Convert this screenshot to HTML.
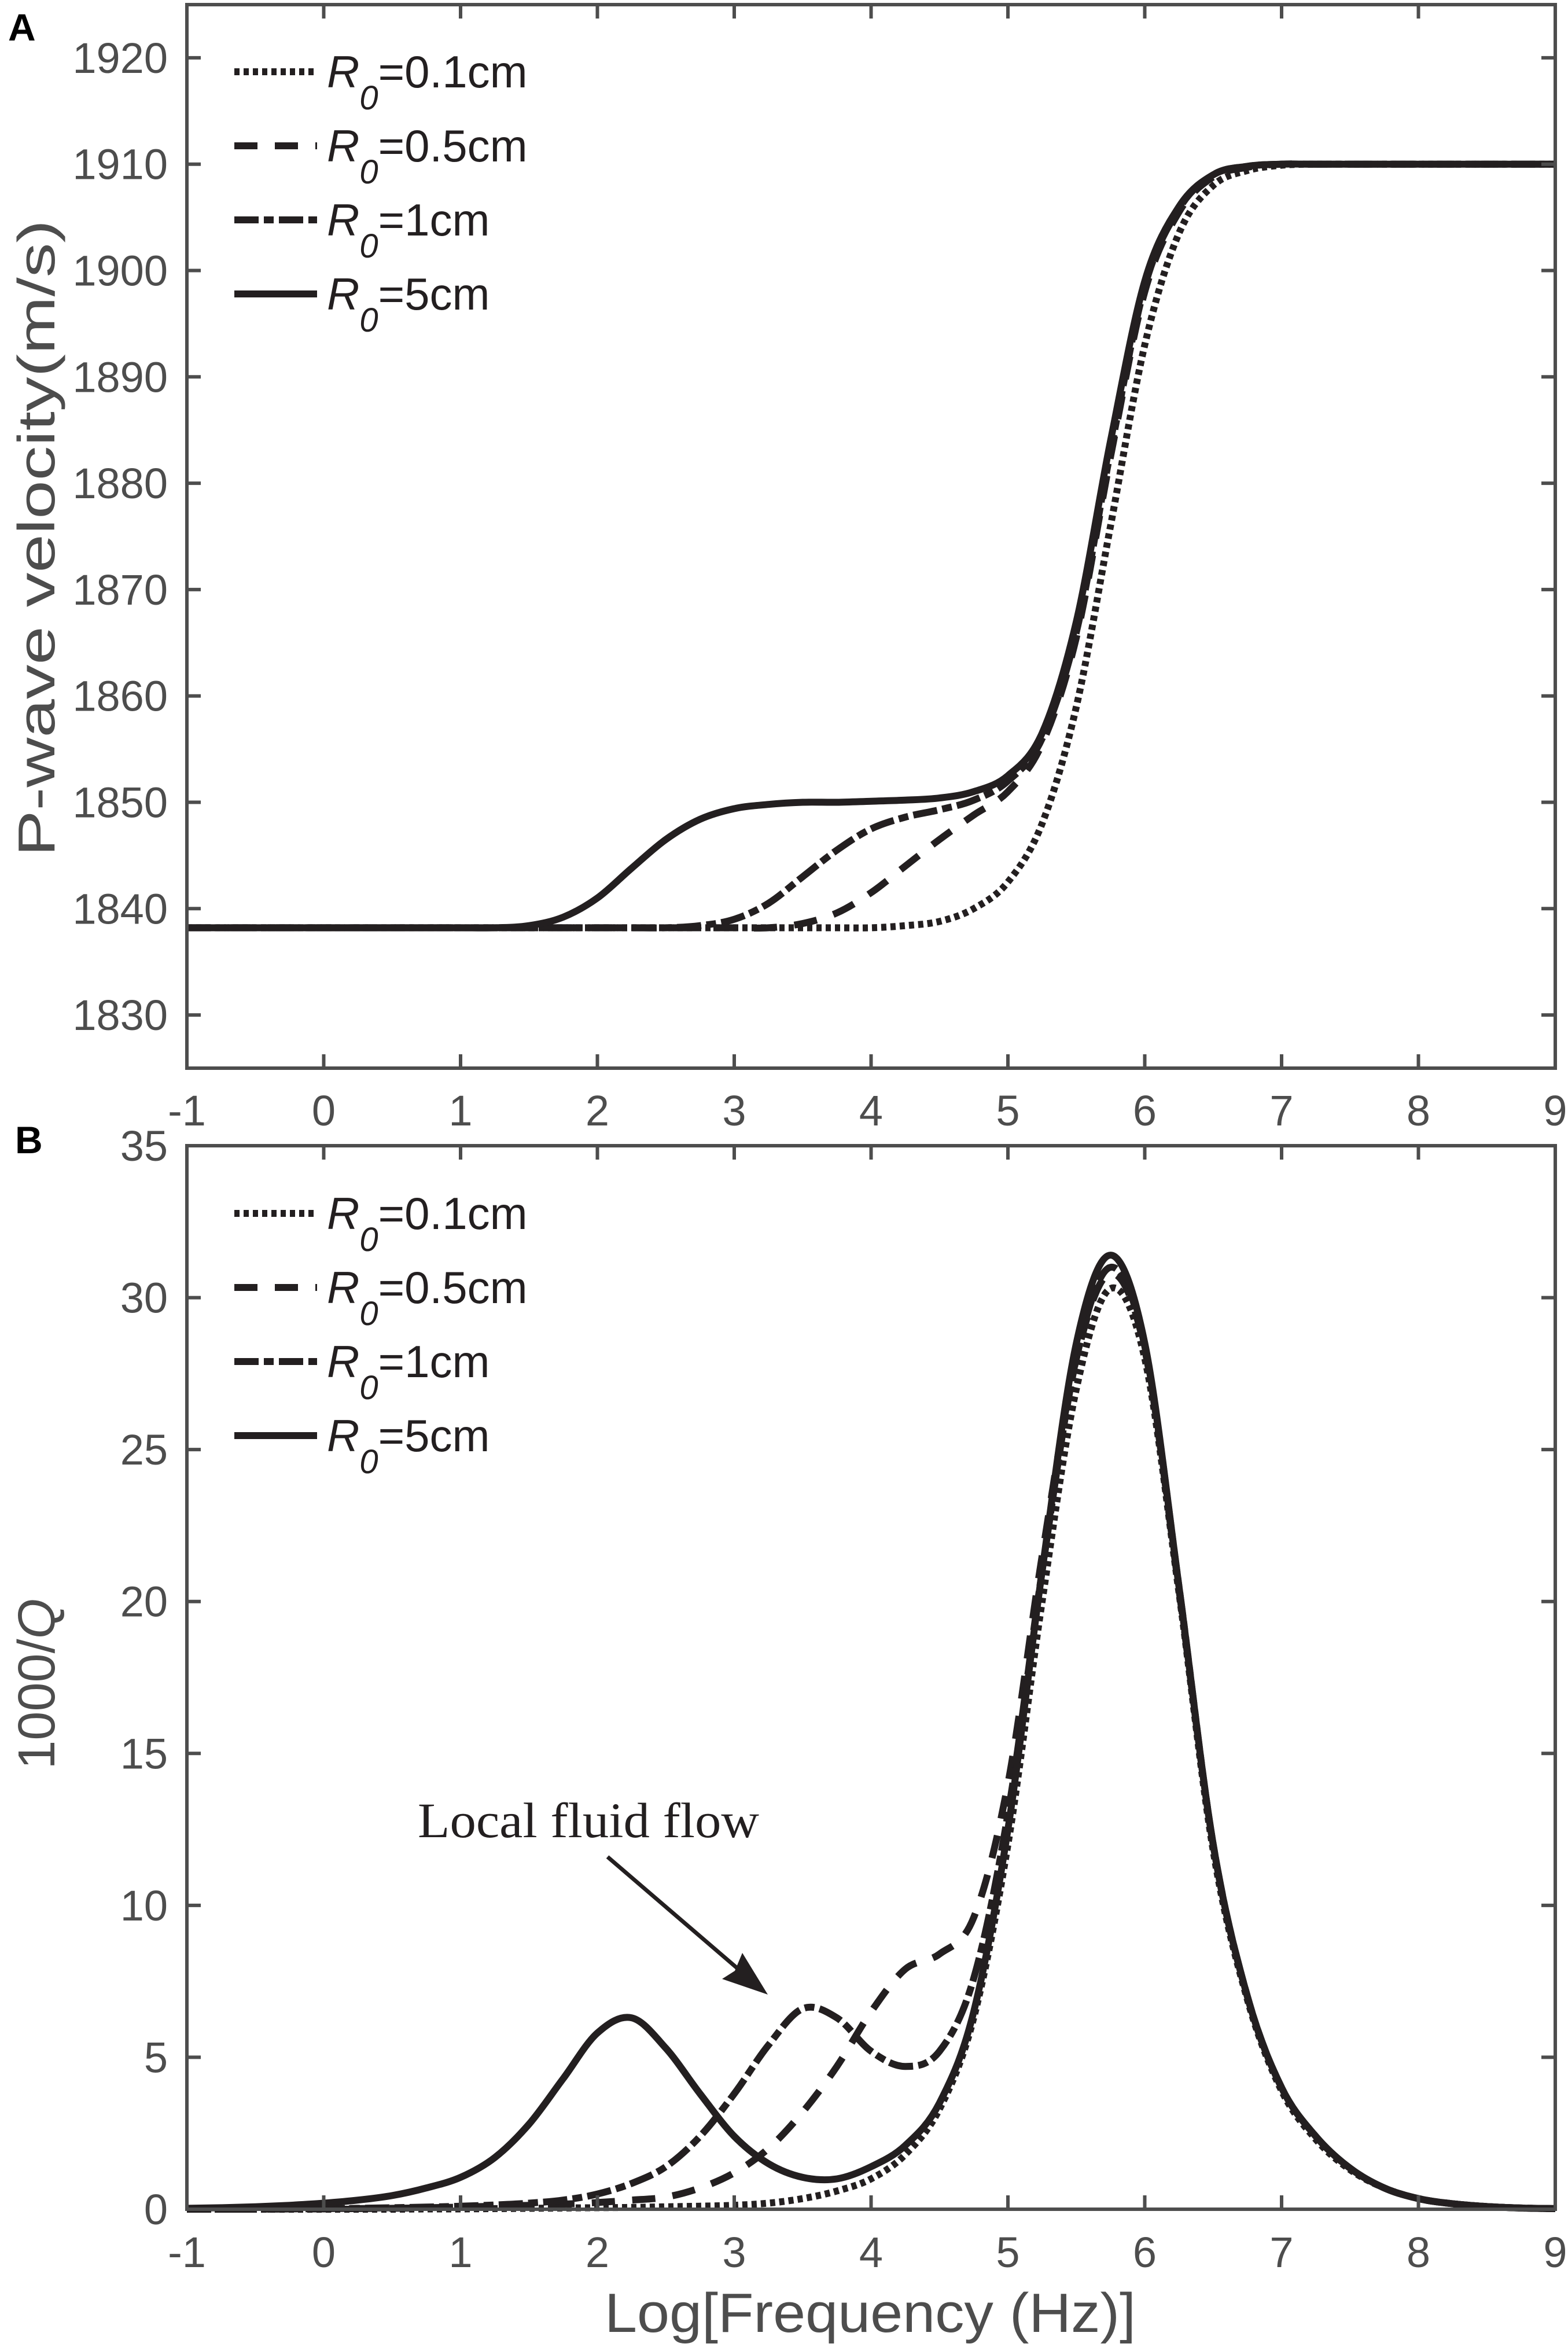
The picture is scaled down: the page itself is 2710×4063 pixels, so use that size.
<!DOCTYPE html>
<html><head><meta charset="utf-8"><style>
html,body{margin:0;padding:0;background:#fff;}
svg{display:block;}
</style></head><body>
<svg id="fig" width="2710" height="4063" viewBox="0 0 2710 4063" xmlns="http://www.w3.org/2000/svg" font-family="Liberation Sans, Arial, sans-serif">
<rect width="2710" height="4063" fill="#fff"/>
<g id="pa"></g>
<g id="pb"></g>
</svg>
<script>
// ---- data ----
const xGrid = [-1,-0.75,-0.5,-0.25,0,0.25,0.5,0.75,1,1.25,1.5,1.75,2,2.25,2.5,2.75,3,3.25,3.5,3.75,4,4.25,4.5,4.75,5,5.25,5.5,5.75,6,6.25,6.5,6.75,7,7.25,7.5,7.75,8,8.25,8.5,8.75,9];
const seriesNames = ["R0=0.1cm","R0=0.5cm","R0=1cm","R0=5cm"];
const xTicks = [-1,0,1,2,3,4,5,6,7,8,9];
const yTicksA = [1830,1840,1850,1860,1870,1880,1890,1900,1910,1920];
const yTicksB = [0,5,10,15,20,25,30,35];
// Panel A: P-wave velocity (m/s)
const velR01 = [1838.2,1838.2,1838.2,1838.2,1838.2,1838.2,1838.2,1838.2,1838.2,1838.2,1838.2,1838.2,1838.2,1838.2,1838.2,1838.2,1838.2,1838.2,1838.2,1838.2,1838.2,1838.4,1838.8,1840,1842.5,1848,1859,1876,1893,1903.5,1908,1909.4,1909.9,1910,1910,1910,1910,1910,1910,1910,1910];
const velR05 = [1838.2,1838.2,1838.2,1838.2,1838.2,1838.2,1838.2,1838.2,1838.2,1838.2,1838.2,1838.2,1838.2,1838.2,1838.2,1838.2,1838.2,1838.2,1838.6,1839.6,1841.5,1844,1846.5,1848.8,1851,1855.5,1865.5,1882.5,1898,1905.5,1908.8,1909.7,1910,1910,1910,1910,1910,1910,1910,1910,1910];
const velR1 = [1838.2,1838.2,1838.2,1838.2,1838.2,1838.2,1838.2,1838.2,1838.2,1838.2,1838.2,1838.2,1838.2,1838.2,1838.2,1838.4,1839,1840.5,1843,1845.5,1847.5,1848.6,1849.3,1850.2,1852,1856,1866,1883,1898.5,1905.8,1909,1909.8,1910,1910,1910,1910,1910,1910,1910,1910,1910];
const velR5 = [1838.2,1838.2,1838.2,1838.2,1838.2,1838.2,1838.2,1838.2,1838.2,1838.2,1838.4,1839.2,1841,1843.8,1846.5,1848.4,1849.4,1849.8,1850,1850,1850.1,1850.2,1850.4,1851,1852.5,1856.5,1867,1884,1899,1906,1909,1909.8,1910,1910,1910,1910,1910,1910,1910,1910,1910];
// Panel B: 1000/Q
const qR01 = [0,0,0,0,0,0,0,0.01,0.01,0.02,0.03,0.04,0.05,0.06,0.08,0.1,0.13,0.2,0.35,0.6,1.0,1.8,3.3,6.3,12,20,27,30.3,28,20.3,11.8,6.9,3.9,2.3,1.3,0.7,0.35,0.18,0.09,0.04,0.02];
const qR05 = [0,0,0,0.01,0.01,0.02,0.03,0.05,0.07,0.1,0.13,0.17,0.22,0.3,0.4,0.7,1.2,2.0,3.2,4.7,6.5,7.9,8.4,9.6,14,21.5,28,30.8,28.3,20.4,12,7,4,2.4,1.35,0.7,0.35,0.18,0.09,0.04,0.02];
const qR1 = [0,0,0,0.01,0.02,0.03,0.05,0.07,0.1,0.14,0.2,0.3,0.5,0.85,1.4,2.4,3.8,5.4,6.6,6.3,5.2,4.7,5.2,7.6,13,21,28,31.0,28.4,20.5,12,7,4,2.4,1.35,0.7,0.35,0.18,0.09,0.04,0.02];
const qR5 = [0.03,0.05,0.08,0.13,0.2,0.3,0.45,0.7,1.05,1.7,2.8,4.3,5.8,6.3,5.3,3.8,2.4,1.5,1.05,1.0,1.4,2.1,3.5,6.5,12.5,21,28.5,31.4,28.5,20.5,12,7,4,2.4,1.35,0.7,0.35,0.18,0.09,0.04,0.02];

// ---- layout ----
const X0=323, X1=2688, XMIN=-1, XMAX=9;
const xs = v => X0 + (v-XMIN)/(XMAX-XMIN)*(X1-X0);
const A = {top:8, bottom:1846, ymin:1825, ymax:1925};
const B = {top:1980, bottom:3818, ymin:0, ymax:35};
const ysF = P => v => P.bottom - (v-P.ymin)/(P.ymax-P.ymin)*(P.bottom-P.top);
const NS="http://www.w3.org/2000/svg";
const AX="#4d4d4d", CUR="#231f20";
const dashes = ["9 7","40 30","42 9 17 9",""];
function mk(tag, attrs, parent){const e=document.createElementNS(NS,tag);for(const k in attrs)e.setAttribute(k,attrs[k]);parent.appendChild(e);return e;}
function smooth(pts){
  let d=`M${pts[0][0].toFixed(1)},${pts[0][1].toFixed(1)}`;
  for(let i=0;i<pts.length-1;i++){
    const p0=pts[Math.max(0,i-1)],p1=pts[i],p2=pts[i+1],p3=pts[Math.min(pts.length-1,i+2)];
    const c1=[p1[0]+(p2[0]-p0[0])/6,p1[1]+(p2[1]-p0[1])/6];
    const c2=[p2[0]-(p3[0]-p1[0])/6,p2[1]-(p3[1]-p1[1])/6];
    d+=` C${c1[0].toFixed(1)},${c1[1].toFixed(1)} ${c2[0].toFixed(1)},${c2[1].toFixed(1)} ${p2[0].toFixed(1)},${p2[1].toFixed(1)}`;
  }
  return d;
}
function panel(g, P, yTicks, series, legendY0, isA){
  const ys=ysF(P);
  series.forEach((s,i)=>{
    const pts=xGrid.map((x,j)=>[xs(x),ys(s[j])]);
    const p=mk('path',{d:smooth(pts),fill:'none',stroke:CUR,'stroke-width':12,'stroke-dasharray':dashes[i]},g);
    
    
  });
  const box=mk('rect',{x:X0,y:P.top,width:X1-X0,height:P.bottom-P.top,fill:'none',stroke:AX,'stroke-width':6},g);
  
  
  xTicks.forEach(t=>{
    const x=xs(t);
    const tk=mk('path',{d:`M${x},${P.bottom}v-24M${x},${P.top}v24`,stroke:AX,'stroke-width':6},g);
    
    
    const tl=mk('text',{x:x,y:P.bottom+(isA?99:100),'text-anchor':'middle','font-size':74,fill:AX},g);
    tl.textContent=String(t);
    
    
  });
  yTicks.forEach(t=>{
    const y=ys(t);
    const tk=mk('path',{d:`M${X0},${y}h24M${X1},${y}h-24`,stroke:AX,'stroke-width':6},g);
    
    
    const tl=mk('text',{x:290,y:y+26,'text-anchor':'end','font-size':74,fill:AX},g);
    tl.textContent=String(t);
    
    
  });
  const labels=["0.1cm","0.5cm","1cm","5cm"];
  labels.forEach((lab,i)=>{
    const y=legendY0+i*128;
    const le=mk('g',{},g);
    
    
    mk('line',{x1:405,x2:548,y1:y,y2:y,stroke:CUR,'stroke-width':12,'stroke-dasharray':dashes[i]},le);
    const t=mk('text',{x:565,y:y+27,'font-size':78,fill:CUR},le);
    const r=mk('tspan',{'font-style':'italic'},t); r.textContent='R';
    const z=mk('tspan',{'font-style':'italic',dy:38,'font-size':58},t); z.textContent='0';
    const e=mk('tspan',{dy:-38},t); e.textContent='='+lab;
  });
}
const ga=document.getElementById('pa'), gb=document.getElementById('pb');
panel(ga,A,yTicksA,[velR01,velR05,velR1,velR5],124,true);
panel(gb,B,yTicksB,[qR01,qR05,qR1,qR5],2097,false);
const svg=document.getElementById('fig');
let t=mk('text',{x:14,y:70,'font-size':66,'font-weight':'bold',fill:'#000'},svg); t.textContent='A';
 
t=mk('text',{x:26,y:1993,'font-size':66,'font-weight':'bold',fill:'#000'},svg); t.textContent='B';
 
t=mk('text',{x:0,y:0,'font-size':90,fill:AX,'text-anchor':'middle',transform:'translate(94,930) rotate(-90)',textLength:1100,lengthAdjust:'spacingAndGlyphs'},svg);
t.textContent='P-wave velocity(m/s)';
 
t=mk('text',{x:0,y:0,'font-size':90,fill:AX,'text-anchor':'middle',transform:'translate(94,2910) rotate(-90)'},svg);
let s1=mk('tspan',{},t); s1.textContent='1000/';
let s2=mk('tspan',{'font-style':'italic'},t); s2.textContent='Q';
 
t=mk('text',{x:1504,y:4030,'font-size':96,fill:AX,'text-anchor':'middle',textLength:918,lengthAdjust:'spacingAndGlyphs'},svg);
t.textContent='Log[Frequency (Hz)]';
 
t=mk('text',{x:722,y:3175,'font-size':86,fill:CUR,'font-family':'Liberation Serif, serif',textLength:590,lengthAdjust:'spacingAndGlyphs'},svg);
t.textContent='Local fluid flow';
 
const ar=mk('g',{},svg);
 
mk('line',{x1:1050,y1:3209,x2:1290,y2:3415,stroke:CUR,'stroke-width':7},ar);
mk('path',{d:'M1327,3447 L1248,3420 L1270,3406 L1283,3375 Z',fill:CUR},ar);
</script>
</body></html>
